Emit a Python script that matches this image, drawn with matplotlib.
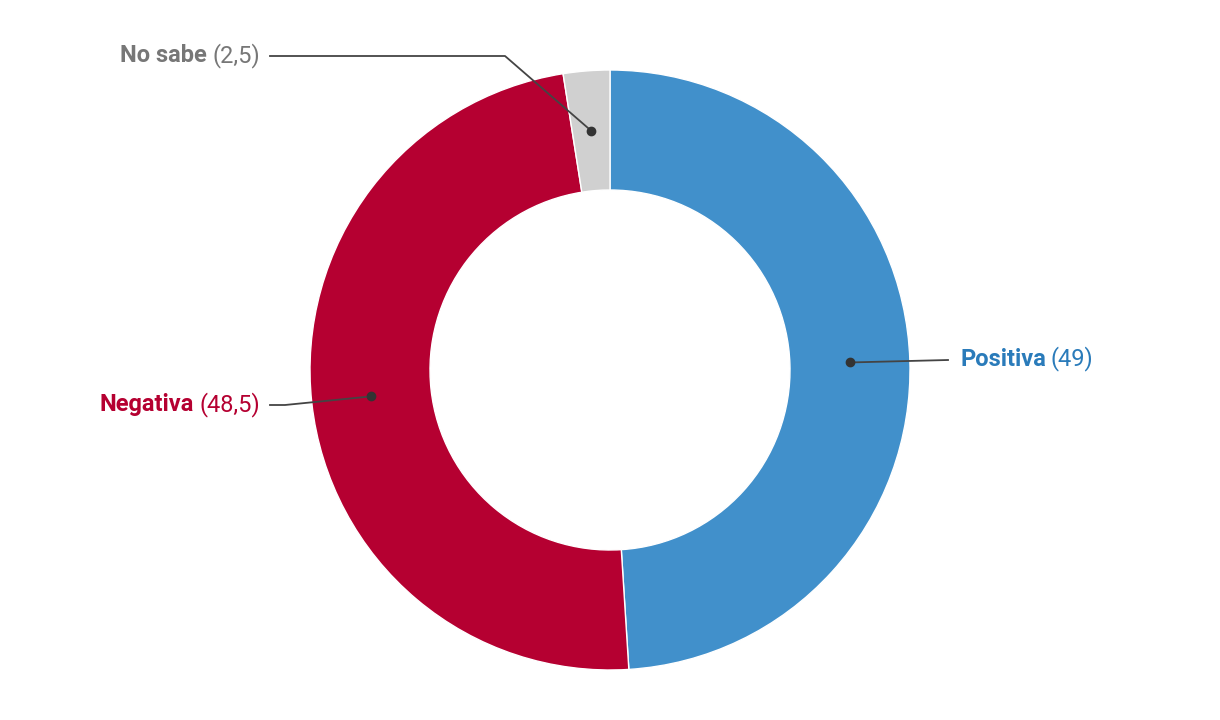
import numpy as np
import matplotlib
matplotlib.use("Agg")
import matplotlib.pyplot as plt

categories = ["Positiva", "Negativa", "No sabe"]
values = [49, 48.5, 2.5]
value_labels = ["49", "48,5", "2,5"]
wedge_colors = ["#4190CB", "#B50031", "#D0D0D0"]
text_colors = ["#2A7BBA", "#B50031", "#777777"]

plt.rcParams['font.family'] = ['Roboto', 'DejaVu Sans']

W, H = 1220, 720
fig = plt.figure(figsize=(W / 100, H / 100), dpi=100)
ax = fig.add_axes([0, 0, 1, 1])

cx, cy = 610, 350
R, ring = 300, 120
ax.pie(values, colors=wedge_colors, startangle=90, counterclock=False,
       radius=R, center=(cx, cy),
       wedgeprops=dict(width=ring, edgecolor="white", linewidth=1))
ax.set_xlim(0, W)
ax.set_ylim(0, H)
ax.set_aspect('equal')
ax.axis('off')

# mid angles
total = sum(values)
cum = np.cumsum([0] + values[:-1])
mids = [90 - (c + v / 2) / total * 360 for c, v in zip(cum, values)]
rm = R - ring / 2
dots = [(cx + rm * np.cos(np.radians(a)), cy + rm * np.sin(np.radians(a))) for a in mids]

line_color = "#444444"
fs = 17
renderer = fig.canvas.get_renderer()

def label(x, y, name, val, color, ha):
    if ha == "left":
        t1 = ax.text(x, y, name, fontsize=fs, fontweight="bold", color=color,
                     ha="left", va="center")
        w = t1.get_window_extent(renderer).width
        ax.text(x + w + 5, y, f"({val})", fontsize=fs, color=color,
                ha="left", va="center")
    else:
        t2 = ax.text(x, y, f"({val})", fontsize=fs, color=color,
                     ha="right", va="center")
        w = t2.get_window_extent(renderer).width
        ax.text(x - w - 5, y, name, fontsize=fs, fontweight="bold", color=color,
                ha="right", va="center")

# Positiva
d = dots[0]
ax.plot([d[0], 948], [d[1], H - 360], color=line_color, lw=1.3)
ax.plot(*d, 'o', color="#333333", ms=6)
label(960, H - 359, categories[0], value_labels[0], text_colors[0], "left")

# Negativa
d = dots[1]
ax.plot([d[0], 285, 270], [d[1], H - 405, H - 405], color=line_color, lw=1.3)
ax.plot(*d, 'o', color="#333333", ms=6)
label(260, H - 405, categories[1], value_labels[1], text_colors[1], "right")

# No sabe
d = dots[2]
ax.plot([d[0], 505, 270], [d[1], H - 56, H - 56], color=line_color, lw=1.3)
ax.plot(*d, 'o', color="#333333", ms=6)
label(260, H - 56, categories[2], value_labels[2], text_colors[2], "right")

fig.savefig("out.png", dpi=100)
